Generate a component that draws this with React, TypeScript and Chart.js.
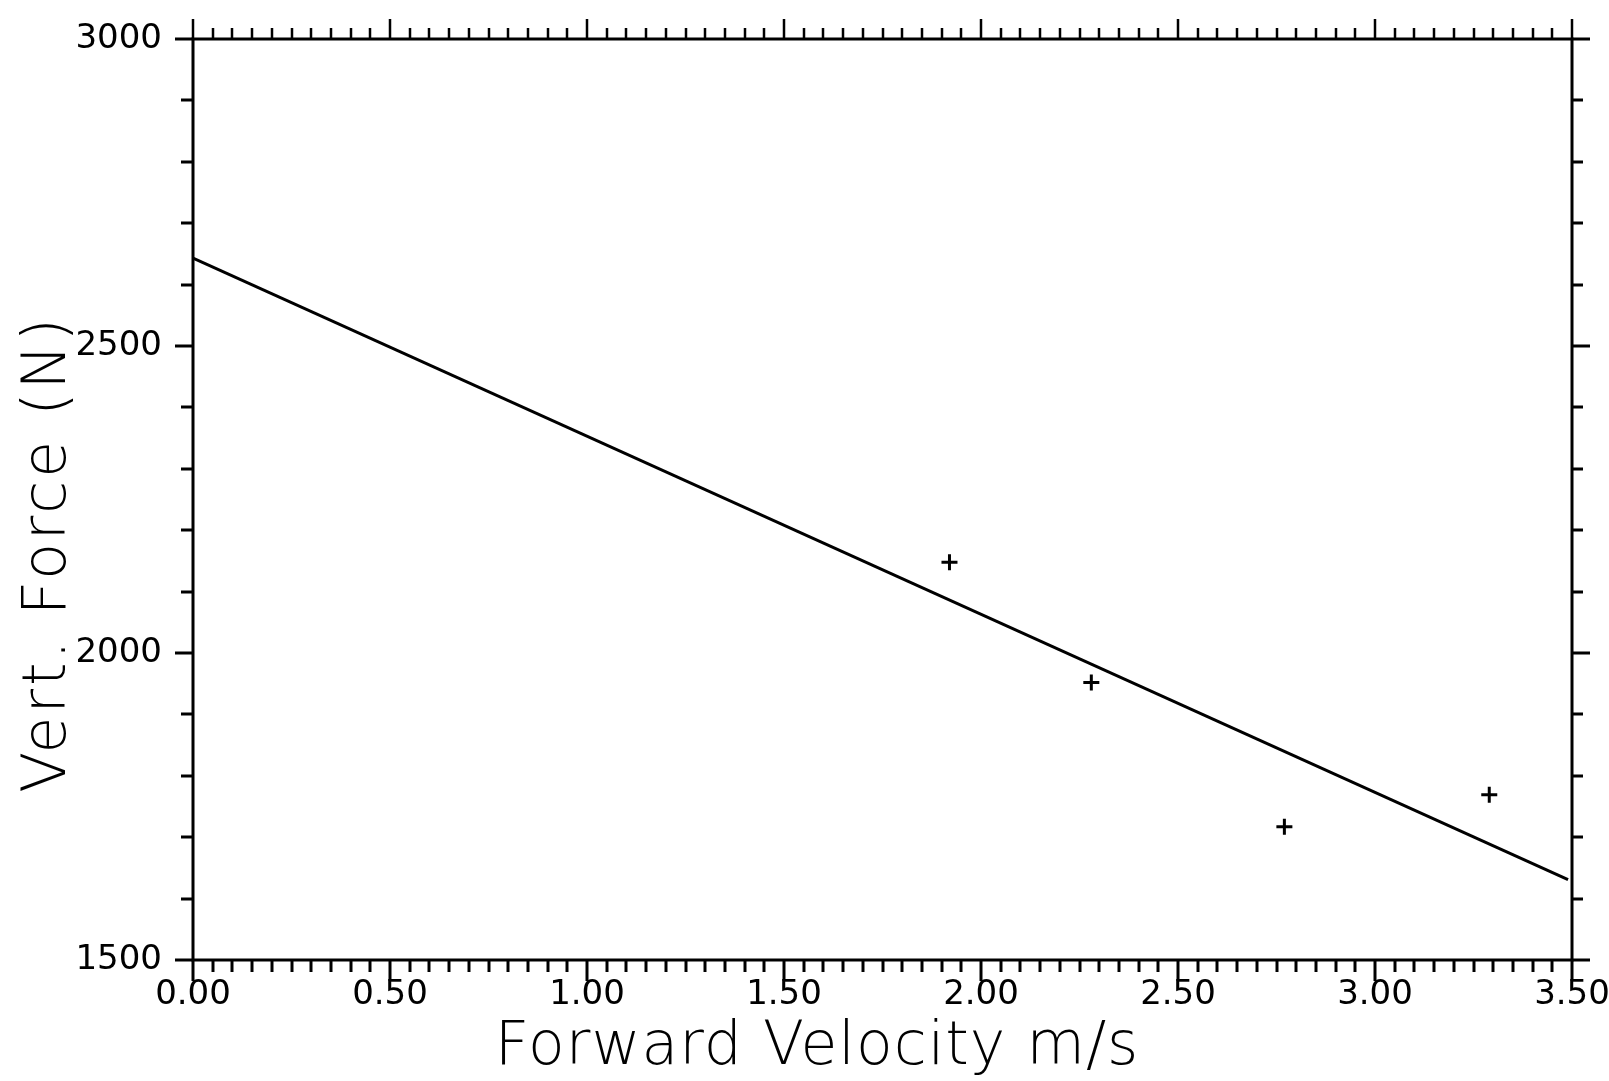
import React, { useEffect, useRef } from "react";
import { Chart, registerables } from "chart.js";

Chart.register(...registerables);

// ---- data ----
const velocity = [1.92, 2.28, 2.77, 3.29];
const verticalForce = [2148, 1952, 1717, 1769];
const fitVelocity = [0, 3.49];
const fitForce = [2643, 1631];

const X_MIN = 0;
const X_MAX = 3.5;
const X_MAJOR = 0.5;
const X_MINOR = 0.05;
const Y_MIN = 1500;
const Y_MAX = 3000;
const Y_MAJOR = 500;
const Y_MINOR = 100;

const xTitle = "Forward Velocity m/s";
const yTitle = "Vert. Force (N)";

const framePlugin = {
  id: "framePlugin",
  afterDraw(chart: any) {
    const { ctx, chartArea: a, scales } = chart;
    const xs = scales.x;
    const ys = scales.y;
    ctx.save();
    ctx.strokeStyle = "#000";
    ctx.lineCap = "butt";
    ctx.lineWidth = 3;
    ctx.strokeRect(a.left, a.top, a.right - a.left, a.bottom - a.top);

    const perX = Math.round(X_MAJOR / X_MINOR);
    const nX = Math.round((X_MAX - X_MIN) / X_MINOR);
    for (let i = 0; i <= nX; i++) {
      const v = X_MIN + i * X_MINOR;
      const px = Math.round(xs.getPixelForValue(v));
      const major = i % perX === 0;
      ctx.lineWidth = 3;
      ctx.beginPath();
      ctx.moveTo(px, a.bottom);
      ctx.lineTo(px, a.bottom + (major ? 21 : 12));
      ctx.stroke();
      ctx.lineWidth = 2.5;
      ctx.beginPath();
      ctx.moveTo(px, a.top);
      ctx.lineTo(px, a.top - (major ? 20 : 11));
      ctx.stroke();
    }
    const perY = Math.round(Y_MAJOR / Y_MINOR);
    const nY = Math.round((Y_MAX - Y_MIN) / Y_MINOR);
    ctx.lineWidth = 3;
    for (let i = 0; i <= nY; i++) {
      const v = Y_MIN + i * Y_MINOR;
      const py = Math.round(ys.getPixelForValue(v));
      const major = i % perY === 0;
      ctx.beginPath();
      ctx.moveTo(a.left, py);
      ctx.lineTo(a.left - (major ? 18 : 12), py);
      ctx.moveTo(a.right, py);
      ctx.lineTo(a.right + (major ? 18 : 11), py);
      ctx.stroke();
    }

    ctx.fillStyle = "#000";
    ctx.font = "200 60px 'DejaVu Sans'";
    ctx.textAlign = "center";
    ctx.textBaseline = "alphabetic";
    (ctx as any).letterSpacing = "1px";
    ctx.fillText(xTitle, 817, 1064);
    (ctx as any).letterSpacing = "3px";
    ctx.translate(65, 554);
    ctx.rotate(-Math.PI / 2);
    ctx.fillText(yTitle, 0, 0);
    (ctx as any).letterSpacing = "0px";
    ctx.restore();
  },
};

export default function App() {
  const ref = useRef<HTMLCanvasElement | null>(null);
  useEffect(() => {
    if (!ref.current) return;
    const chart = new Chart(ref.current, {
      type: "scatter",
      data: {
        datasets: [
          {
            label: "fit",
            data: fitVelocity.map((x, i) => ({ x, y: fitForce[i] })),
            showLine: true,
            borderColor: "#000",
            borderWidth: 3,
            pointRadius: 0,
            fill: false,
          },
          {
            label: "measured",
            data: velocity.map((x, i) => ({ x, y: verticalForce[i] })),
            pointStyle: "cross",
            pointRadius: 8,
            pointBorderWidth: 3,
            borderColor: "#000",
            backgroundColor: "#000",
          },
        ],
      },
      options: {
        responsive: false,
        animation: false,
        layout: { padding: { left: 0, right: 37, top: 39, bottom: 0 } },
        plugins: { legend: { display: false }, tooltip: { enabled: false } },
        scales: {
          x: {
            type: "linear",
            min: X_MIN,
            max: X_MAX,
            grid: { display: false, drawTicks: false },
            border: { display: false },
            ticks: {
              stepSize: X_MAJOR,
              autoSkip: false,
              maxRotation: 0,
              padding: 15,
              color: "#000",
              font: { family: "'DejaVu Sans'", size: 34 },
              callback: (v: any) => Number(v).toFixed(2),
            },
            afterFit: (s: any) => {
              s.height = 121;
              s.paddingLeft = 0;
              s.paddingRight = 0;
            },
          },
          y: {
            type: "linear",
            min: Y_MIN,
            max: Y_MAX,
            grid: { display: false, drawTicks: false },
            border: { display: false },
            ticks: {
              stepSize: Y_MAJOR,
              autoSkip: false,
              padding: 31,
              color: "#000",
              font: { family: "'DejaVu Sans'", size: 34 },
              callback: (v: any) => String(v),
            },
            afterFit: (s: any) => {
              s.width = 193;
              s.paddingTop = 0;
              s.paddingBottom = 0;
            },
          },
        },
      },
      plugins: [framePlugin],
    });
    return () => chart.destroy();
  }, []);
  return (
    <div style={{ position: "fixed", left: 0, top: 0, width: 1609, height: 1081, background: "#fff" }}>
      <canvas ref={ref} width={1609} height={1081} style={{ display: "block" }} />
    </div>
  );
}
